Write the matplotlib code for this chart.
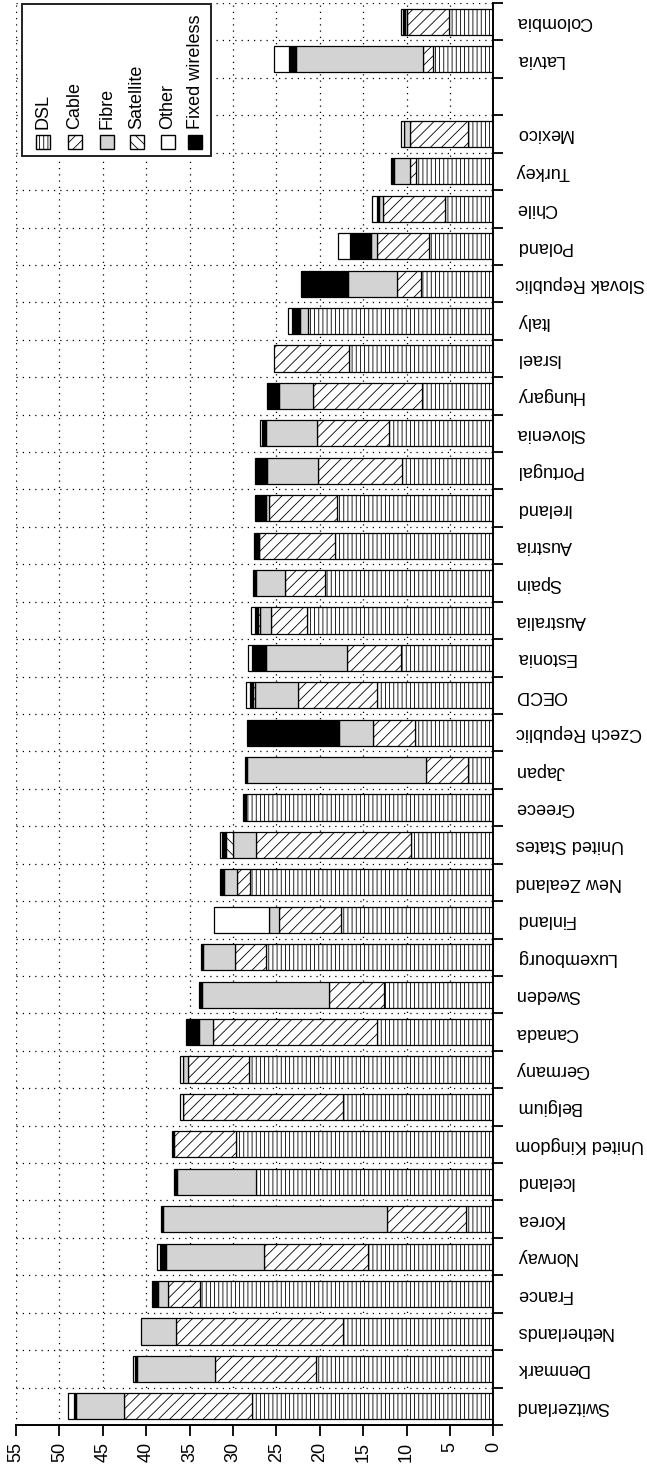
import numpy as np
import matplotlib
matplotlib.use("Agg")
import matplotlib.pyplot as plt
from matplotlib.patches import Rectangle

plt.rcParams['font.family'] = ['Liberation Sans', 'DejaVu Sans']
plt.rcParams['hatch.linewidth'] = 0.6

# Categories, bottom to top ("" = empty slot)
countries = ["Switzerland", "Denmark", "Netherlands", "France", "Norway", "Korea",
             "Iceland", "United Kingdom", "Belgium", "Germany", "Canada", "Sweden",
             "Luxembourg", "Finland", "New Zealand", "United States", "Greece", "Japan",
             "Czech Republic", "OECD", "Estonia", "Australia", "Spain", "Austria",
             "Ireland", "Portugal", "Slovenia", "Hungary", "Israel", "Italy",
             "Slovak Republic", "Poland", "Chile", "Turkey", "Mexico", "", "Latvia", "Colombia"]

dsl = [27.8, 20.4, 17.3, 33.8, 14.4, 3.1, 27.3, 29.7, 17.35, 28.2, 13.45, 12.6,
       26.2, 17.55, 28.0, 9.5, 28.5, 2.9, 9.0, 13.45, 10.65, 21.5, 19.4, 18.25,
       18.05, 10.5, 12.0, 8.2, 16.6, 21.3, 8.3, 7.4, 5.6, 8.85, 2.9, 0, 7.0, 5.05]
cable = [14.8, 11.65, 19.3, 3.65, 12.0, 9.1, 0, 7.07, 18.35, 7.0, 18.9, 6.3,
         3.6, 7.2, 1.55, 17.8, 0, 4.8, 4.9, 9.1, 6.25, 4.1, 4.6, 8.7,
         7.85, 9.7, 8.35, 12.6, 8.7, 0, 2.8, 6.05, 7.1, 0.7, 6.65, 0, 1.15, 4.9]
fibre = [5.45, 8.95, 4.0, 1.23, 11.3, 25.85, 9.1, 0, 0.1, 0.5, 1.57, 14.7,
         3.65, 1.15, 1.45, 2.75, 0, 20.65, 3.85, 4.9, 9.3, 1.27, 3.35, 0.1,
         0.25, 5.85, 5.85, 3.9, 0, 0.95, 5.7, 0.65, 0.45, 1.9, 0.75, 0, 14.55, 0.2]
satellite = [0, 0, 0, 0, 0, 0, 0, 0, 0, 0, 0, 0,
             0, 0, 0, 0.77, 0, 0, 0, 0.2, 0, 0.2, 0, 0,
             0, 0, 0, 0, 0, 0, 0, 0, 0, 0, 0, 0, 0, 0]
fixed_wireless = [0.3, 0.27, 0, 0.6, 0.7, 0.27, 0.45, 0.23, 0, 0, 1.54, 0.27,
                  0.2, 0, 0.55, 0.45, 0.38, 0.25, 10.65, 0.4, 1.65, 0.4, 0.3, 0.5,
                  1.3, 1.45, 0.4, 1.4, 0, 0.95, 5.4, 2.4, 0.2, 0.3, 0, 0, 0.85, 0.2]
other = [0.65, 0.27, 0, 0, 0.4, 0, 0, 0, 0.3, 0.35, 0, 0,
         0, 6.25, 0, 0.25, 0, 0, 0, 0.4, 0.45, 0.4, 0, 0,
         0, 0, 0.3, 0, 0, 0.4, 0, 1.4, 0.6, 0, 0.35, 0, 1.75, 0.3]

series = [
    ("DSL", dsl, dict(facecolor="white", hatch="||||")),
    ("Cable", cable, dict(facecolor="white", hatch="///")),
    ("Fibre", fibre, dict(facecolor="#d3d3d3", hatch=None)),
    ("Satellite", satellite, dict(facecolor="white", hatch="\\\\\\")),
    ("Fixed wireless", fixed_wireless, dict(facecolor="black", hatch=None)),
    ("Other", other, dict(facecolor="white", hatch=None)),
]
legend_order = ["DSL", "Cable", "Fibre", "Satellite", "Other", "Fixed wireless"]

W, H = 647, 1468
fig = plt.figure(figsize=(W / 100, H / 100), dpi=100)
ax = fig.add_axes([16 / W, 1 - 1425 / H, (493.3 - 16) / W, (1425 - 3) / H])

y = np.arange(len(countries))
left = np.zeros(len(countries))
for name, vals, style in series:
    v = np.array(vals, dtype=float)
    m = v > 0
    ax.barh(y[m], v[m], left=left[m], height=0.7, edgecolor="black",
            linewidth=0.9, zorder=2, **style)
    left += v

ax.set_xlim(55, 0)
ax.set_ylim(-0.5, len(countries) - 0.5)

ax.set_xticks(np.arange(0, 56, 5))
ax.set_xticklabels([str(t) for t in range(0, 56, 5)], rotation=90, fontsize=13)
ax.tick_params(axis="x", length=8, width=1.3, pad=4)

ax.yaxis.tick_right()
ax.set_yticks(y)
ax.set_yticklabels(countries, rotation=180, fontsize=13, va="center")
ax.set_yticks(np.arange(-0.5, len(countries), 1), minor=True)
ax.tick_params(axis="y", which="major", length=0, pad=16)
ax.tick_params(axis="y", which="minor", length=7, width=1.3, right=True)

ax.set_axisbelow(True)
ax.grid(axis="x", which="major", color="black", linestyle=(0, (1, 4)), linewidth=0.9)
ax.grid(axis="y", which="minor", color="black", linestyle=(0, (1, 4)), linewidth=0.9)
ax.grid(axis="y", which="major", visible=False)

for s in ["left", "top"]:
    ax.spines[s].set_visible(False)
for s in ["right", "bottom"]:
    ax.spines[s].set_linewidth(1.4)

# Manual legend (rotated text)
def fx(px):
    return px / W

def fy(py):
    return 1 - py / H

fig.add_artist(Rectangle((fx(22), fy(156)), fx(211) - fx(22), fy(4) - fy(156),
                         transform=fig.transFigure, facecolor="white",
                         edgecolor="#222222", linewidth=1.4, zorder=5))
styles = {name: style for name, _, style in series}
centers = [43, 75, 107, 137, 168, 195]
for cx, name in zip(centers, legend_order):
    st = styles[name]
    fig.add_artist(Rectangle((fx(cx - 7), fy(149)), fx(14), fy(135) - fy(149),
                             transform=fig.transFigure, edgecolor="black",
                             linewidth=1.0, zorder=6, **st))
    fig.text(fx(cx), fy(129), name, rotation=90, ha="center", va="bottom",
             fontsize=13, zorder=7)

fig.savefig("out.png", dpi=100)
